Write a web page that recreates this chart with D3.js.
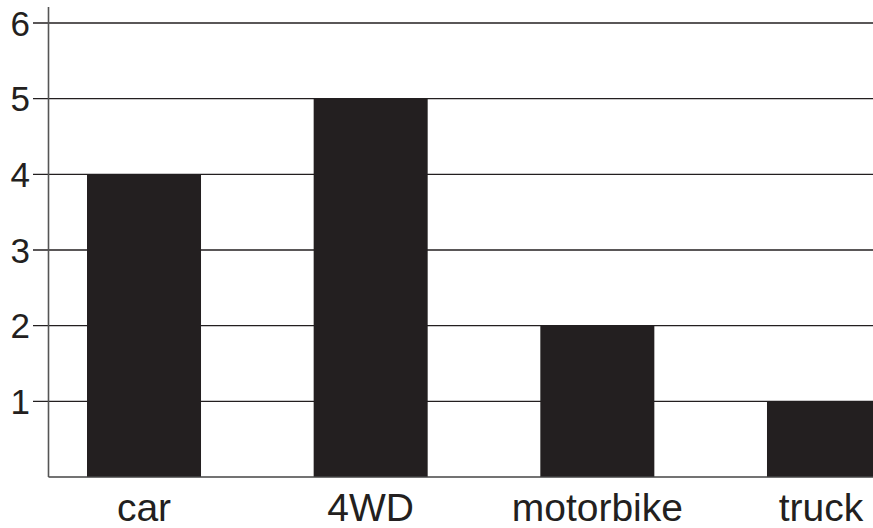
<!DOCTYPE html>
<html>
<head>
<meta charset="utf-8">
<script src="https://cdn.jsdelivr.net/npm/d3@7"></script>
<style>
  body { margin: 0; background: #fff; }
  svg { display: block; font-family: "Liberation Sans", Arial, sans-serif; }
</style>
</head>
<body>
<svg width="873" height="528"></svg>
<script>
// vehicle counts
const categories = ['car', '4WD', 'motorbike', 'truck'];
const values = [4, 5, 2, 1];
const yTicks = [1, 2, 3, 4, 5, 6];

const svg = d3.select('svg');
const W = 873;

// y scale: 0 at the baseline, 6 near the top
const y = d3.scaleLinear()
  .domain([0, 6])
  .range([477, 23]);

// bands: first bar starts at 87, roughly half the step is bar
const x = d3.scaleBand()
  .domain(categories)
  .range([87, 881])
  .paddingInner(0.497)
  .paddingOuter(0);

const axisX = 48.5;

// gridlines + ticks
svg.append('g')
  .selectAll('line')
  .data(yTicks)
  .enter().append('line')
  .attr('x1', 33)
  .attr('x2', W)
  .attr('y1', d => y(d))
  .attr('y2', d => y(d))
  .attr('stroke', '#231f20')
  .attr('stroke-width', 1.4);

// bars
svg.append('g')
  .selectAll('rect')
  .data(values)
  .enter().append('rect')
  .attr('x', (d, i) => x(categories[i]))
  .attr('width', x.bandwidth())
  .attr('y', d => y(d))
  .attr('height', d => y(0) - y(d))
  .attr('fill', '#231f20');

// baseline
svg.append('line')
  .attr('x1', axisX).attr('x2', W)
  .attr('y1', y(0)).attr('y2', y(0))
  .attr('stroke', '#444').attr('stroke-width', 1.5);

// y axis line
svg.append('line')
  .attr('x1', axisX).attr('x2', axisX)
  .attr('y1', 7).attr('y2', y(0))
  .attr('stroke', '#555').attr('stroke-width', 1.6);

// y labels
svg.append('g')
  .selectAll('text')
  .data(yTicks)
  .enter().append('text')
  .attr('x', 30)
  .attr('y', d => y(d))
  .attr('dy', '0.36em')
  .attr('text-anchor', 'end')
  .attr('font-size', 35)
  .attr('fill', '#231f20')
  .text(d => d);

// category labels
svg.append('g')
  .selectAll('text')
  .data(categories)
  .enter().append('text')
  .attr('x', d => Math.min(x(d) + x.bandwidth() / 2, 821))
  .attr('y', 521)
  .attr('text-anchor', 'middle')
  .attr('font-size', 39)
  .attr('fill', '#231f20')
  .text(d => d);
</script>
</body>
</html>
